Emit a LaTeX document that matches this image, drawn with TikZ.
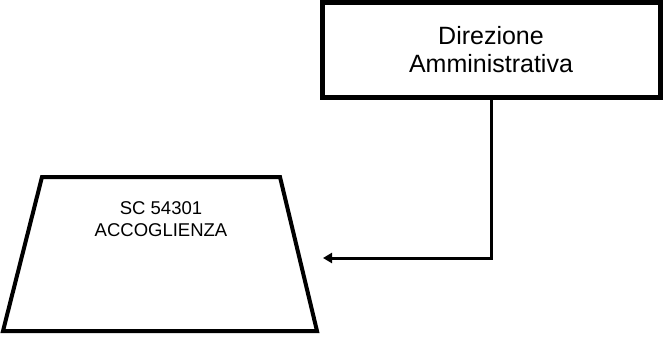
\documentclass[tikz,border=0pt]{standalone}
\usepackage{fontspec}
\setmainfont{Liberation Sans}
\usetikzlibrary{positioning,arrows.meta}
\begin{document}
\begin{tikzpicture}[x=1pt, y=1pt,
    office/.style={rectangle, draw, line width=5pt, minimum width=338pt, minimum height=95pt, inner sep=0pt,
        align=center, font=\fontsize{25}{28}\selectfont},
    unit/.style={draw, line width=4pt, line join=miter},
    unittext/.style={align=center, inner sep=0pt, font=\fontsize{18.5}{22}\selectfont}
]
\useasboundingbox (0,0) rectangle (664,338);
\node[office] (dir) at (491,288.25) {Direzione\\Amministrativa};

% the unit as a trapezium
\coordinate (tl) at (42,161);
\coordinate (tr) at (280,161);
\coordinate (br) at (317,7);
\coordinate (bl) at (3,7);
\draw[unit] (tl) -- (tr) -- (br) -- (bl) -- cycle;
\node[unittext] (acctext) at (161,119) {SC 54301\\ACCOGLIENZA};
\coordinate (tip) at (323,80);

% connector from Direzione to the unit
\draw[line width=3pt, -{Triangle[length=9pt,width=10pt]}] (dir.south) |- (tip);

\end{tikzpicture}
\end{document}
